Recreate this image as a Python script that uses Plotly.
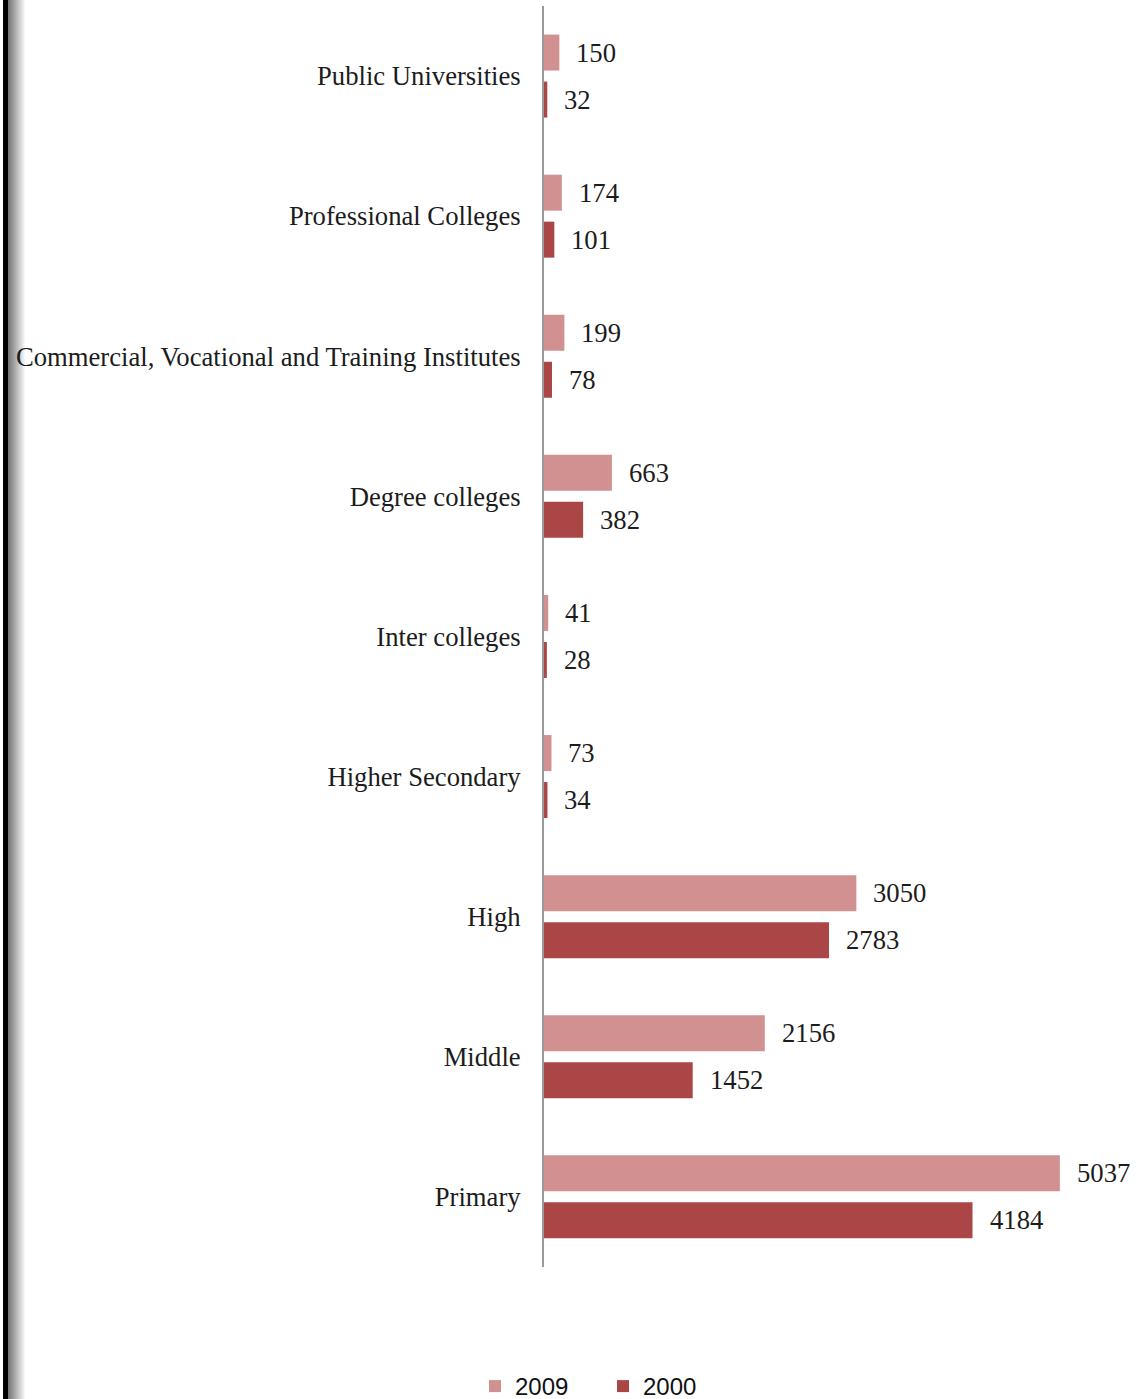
import plotly.graph_objects as go

# Number of educational institutions by level, 2009 vs 2000
categories = [
    "Public Universities",
    "Professional Colleges",
    "Commercial, Vocational and Training Institutes",
    "Degree colleges",
    "Inter colleges",
    "Higher Secondary",
    "High",
    "Middle",
    "Primary",
]
values_2009 = [150, 174, 199, 663, 41, 73, 3050, 2156, 5037]
values_2000 = [32, 101, 78, 382, 28, 34, 2783, 1452, 4184]
series_names = ["2009", "2000"]

W, H = 1138, 1399
COLOR_2009 = "#D29191"
COLOR_2000 = "#AA4646"
SERIF = "Liberation Serif, Times New Roman, serif"
TEXT = "#1c1c1c"
FS = 26.67

fig = go.Figure()
fig.add_trace(go.Bar(
    y=categories, x=values_2009, name=series_names[0], orientation="h",
    marker=dict(color=COLOR_2009, line=dict(width=0)),
))
fig.add_trace(go.Bar(
    y=categories, x=values_2000, name=series_names[1], orientation="h",
    marker=dict(color=COLOR_2000, line=dict(width=0)),
))

# value labels beside each bar
annotations = []
for vals, shift in ((values_2009, 23.5), (values_2000, -23.5)):
    for cat, v in zip(categories, vals):
        annotations.append(dict(
            x=v, y=cat, xref="x", yref="y", text=str(v),
            showarrow=False, xanchor="left", yanchor="middle",
            xshift=15, yshift=shift,
            font=dict(family=SERIF, size=FS, color=TEXT),
        ))

# dark frame edge with soft shadow along the left side
shapes = [dict(type="rect", xref="paper", yref="paper",
               x0=3 / W, x1=8 / W, y0=0, y1=1,
               fillcolor="#000000", line=dict(width=0), layer="below")]
steps = 18
for i in range(steps):
    g = int(110 + (255 - 110) * (i + 1) / steps)
    shapes.append(dict(type="rect", xref="paper", yref="paper",
                       x0=(8 + i) / W, x1=(9 + i) / W, y0=0, y1=1,
                       fillcolor=f"rgb({g},{g},{g})", line=dict(width=0),
                       layer="below"))

fig.update_layout(
    width=W, height=H + 10,
    margin=dict(l=0, r=0, t=0, b=0),
    paper_bgcolor="white", plot_bgcolor="white",
    barmode="group", bargap=0.329, bargroupgap=0.234,
    xaxis=dict(domain=[544 / W, 1], range=[0, 5800],
               showgrid=False, zeroline=False, showticklabels=False,
               showline=False, fixedrange=True),
    yaxis=dict(domain=[(H - 1266) / H, (H - 6) / H],
               autorange="reversed", showgrid=False, zeroline=False,
               showline=True, linecolor="#9a9a9a", linewidth=2,
               ticks="", ticklabelstandoff=16,
               tickfont=dict(family=SERIF, size=FS, color=TEXT)),
    showlegend=True,
    legend=dict(orientation="h", x=603 / W, xanchor="center",
                y=(H - 1386) / H, yanchor="middle",
                font=dict(family="Liberation Sans, Arial, sans-serif",
                          size=24, color="#111111"),
                traceorder="normal", itemwidth=30, entrywidth=83,
                bgcolor="rgba(0,0,0,0)"),
    annotations=annotations,
    shapes=shapes,
)

fig.write_html("out.html")
